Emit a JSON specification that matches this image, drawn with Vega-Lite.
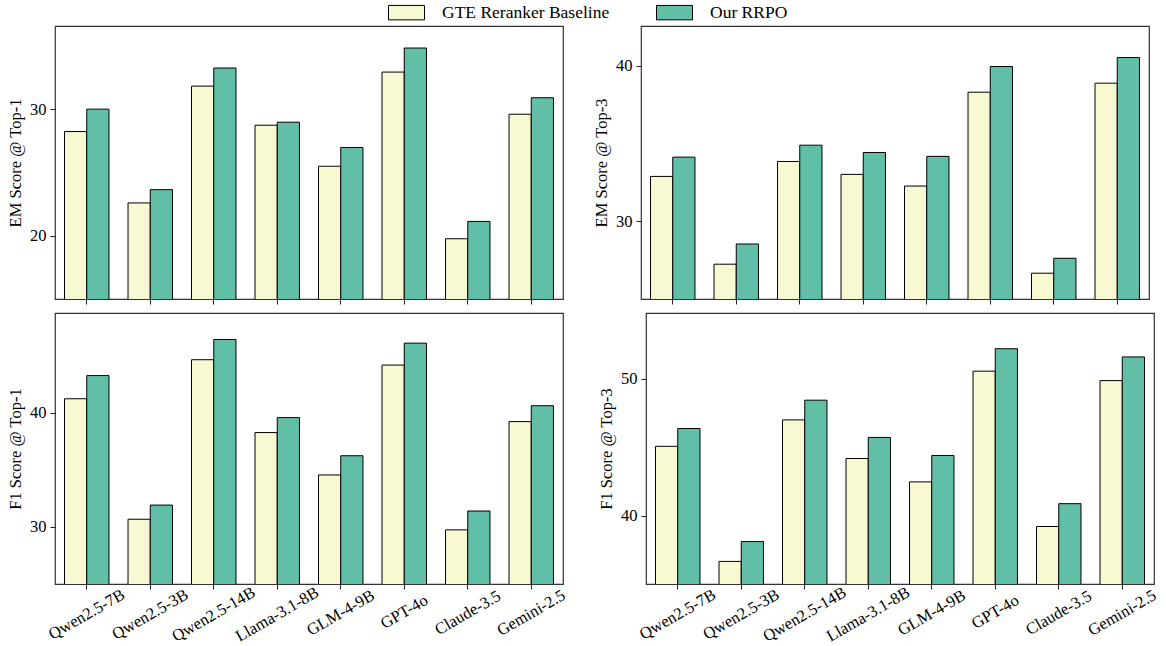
{
  "$schema": "https://vega.github.io/schema/vega-lite/v6.json",
  "padding": {"left": 6, "top": 3, "right": 4, "bottom": 0},
  "background": "white",
  "config": {
    "font": "Liberation Serif",
    "view": {"stroke": "#333333", "strokeWidth": 1.2},
    "axis": {
      "labelFont": "Liberation Serif", "labelFontSize": 16.5, "labelColor": "black",
      "titleFont": "Liberation Serif", "titleFontSize": 16.5, "titleColor": "black", "titleFontWeight": "normal",
      "tickColor": "#222222", "tickSize": 5, "tickWidth": 1, "grid": false,
      "domainColor": "#333333", "domainWidth": 1.2
    },
    "legend": {
      "title": null, "orient": "none", "legendX": 342, "legendY": -23, "direction": "horizontal", "padding": 0,
      "symbolType": "M-2,-0.8H2V0.8H-2Z", "symbolSize": 324, "symbolStrokeColor": "black", "symbolStrokeWidth": 1,
      "labelFont": "Liberation Serif", "labelFontSize": 17.5, "labelColor": "black", "labelOffset": 26,
      "columnPadding": 44, "labelLimit": 400
    }
  },
  "data": {"values": [
    {"metric": "EM1", "model": "Qwen2.5-7B", "method": "GTE Reranker Baseline", "value": 28.23},
    {"metric": "EM1", "model": "Qwen2.5-7B", "method": "Our RRPO", "value": 30.0},
    {"metric": "EM1", "model": "Qwen2.5-3B", "method": "GTE Reranker Baseline", "value": 22.59},
    {"metric": "EM1", "model": "Qwen2.5-3B", "method": "Our RRPO", "value": 23.64},
    {"metric": "EM1", "model": "Qwen2.5-14B", "method": "GTE Reranker Baseline", "value": 31.82},
    {"metric": "EM1", "model": "Qwen2.5-14B", "method": "Our RRPO", "value": 33.25},
    {"metric": "EM1", "model": "Llama-3.1-8B", "method": "GTE Reranker Baseline", "value": 28.73},
    {"metric": "EM1", "model": "Llama-3.1-8B", "method": "Our RRPO", "value": 28.97},
    {"metric": "EM1", "model": "GLM-4-9B", "method": "GTE Reranker Baseline", "value": 25.49},
    {"metric": "EM1", "model": "GLM-4-9B", "method": "Our RRPO", "value": 26.97},
    {"metric": "EM1", "model": "GPT-4o", "method": "GTE Reranker Baseline", "value": 32.93},
    {"metric": "EM1", "model": "GPT-4o", "method": "Our RRPO", "value": 34.83},
    {"metric": "EM1", "model": "Claude-3.5", "method": "GTE Reranker Baseline", "value": 19.76},
    {"metric": "EM1", "model": "Claude-3.5", "method": "Our RRPO", "value": 21.13},
    {"metric": "EM1", "model": "Gemini-2.5", "method": "GTE Reranker Baseline", "value": 29.6},
    {"metric": "EM1", "model": "Gemini-2.5", "method": "Our RRPO", "value": 30.9},

    {"metric": "EM3", "model": "Qwen2.5-7B", "method": "GTE Reranker Baseline", "value": 32.89},
    {"metric": "EM3", "model": "Qwen2.5-7B", "method": "Our RRPO", "value": 34.13},
    {"metric": "EM3", "model": "Qwen2.5-3B", "method": "GTE Reranker Baseline", "value": 27.24},
    {"metric": "EM3", "model": "Qwen2.5-3B", "method": "Our RRPO", "value": 28.54},
    {"metric": "EM3", "model": "Qwen2.5-14B", "method": "GTE Reranker Baseline", "value": 33.85},
    {"metric": "EM3", "model": "Qwen2.5-14B", "method": "Our RRPO", "value": 34.9},
    {"metric": "EM3", "model": "Llama-3.1-8B", "method": "GTE Reranker Baseline", "value": 33.02},
    {"metric": "EM3", "model": "Llama-3.1-8B", "method": "Our RRPO", "value": 34.43},
    {"metric": "EM3", "model": "GLM-4-9B", "method": "GTE Reranker Baseline", "value": 32.27},
    {"metric": "EM3", "model": "GLM-4-9B", "method": "Our RRPO", "value": 34.18},
    {"metric": "EM3", "model": "GPT-4o", "method": "GTE Reranker Baseline", "value": 38.31},
    {"metric": "EM3", "model": "GPT-4o", "method": "Our RRPO", "value": 39.96},
    {"metric": "EM3", "model": "Claude-3.5", "method": "GTE Reranker Baseline", "value": 26.66},
    {"metric": "EM3", "model": "Claude-3.5", "method": "Our RRPO", "value": 27.62},
    {"metric": "EM3", "model": "Gemini-2.5", "method": "GTE Reranker Baseline", "value": 38.89},
    {"metric": "EM3", "model": "Gemini-2.5", "method": "Our RRPO", "value": 40.54},

    {"metric": "F11", "model": "Qwen2.5-7B", "method": "GTE Reranker Baseline", "value": 41.22},
    {"metric": "F11", "model": "Qwen2.5-7B", "method": "Our RRPO", "value": 43.25},
    {"metric": "F11", "model": "Qwen2.5-3B", "method": "GTE Reranker Baseline", "value": 30.67},
    {"metric": "F11", "model": "Qwen2.5-3B", "method": "Our RRPO", "value": 31.91},
    {"metric": "F11", "model": "Qwen2.5-14B", "method": "GTE Reranker Baseline", "value": 44.64},
    {"metric": "F11", "model": "Qwen2.5-14B", "method": "Our RRPO", "value": 46.41},
    {"metric": "F11", "model": "Llama-3.1-8B", "method": "GTE Reranker Baseline", "value": 38.26},
    {"metric": "F11", "model": "Llama-3.1-8B", "method": "Our RRPO", "value": 39.57},
    {"metric": "F11", "model": "GLM-4-9B", "method": "GTE Reranker Baseline", "value": 34.55},
    {"metric": "F11", "model": "GLM-4-9B", "method": "Our RRPO", "value": 36.23},
    {"metric": "F11", "model": "GPT-4o", "method": "GTE Reranker Baseline", "value": 44.17},
    {"metric": "F11", "model": "GPT-4o", "method": "Our RRPO", "value": 46.09},
    {"metric": "F11", "model": "Claude-3.5", "method": "GTE Reranker Baseline", "value": 29.74},
    {"metric": "F11", "model": "Claude-3.5", "method": "Our RRPO", "value": 31.39},
    {"metric": "F11", "model": "Gemini-2.5", "method": "GTE Reranker Baseline", "value": 39.22},
    {"metric": "F11", "model": "Gemini-2.5", "method": "Our RRPO", "value": 40.61},

    {"metric": "F13", "model": "Qwen2.5-7B", "method": "GTE Reranker Baseline", "value": 45.06},
    {"metric": "F13", "model": "Qwen2.5-7B", "method": "Our RRPO", "value": 46.36},
    {"metric": "F13", "model": "Qwen2.5-3B", "method": "GTE Reranker Baseline", "value": 36.65},
    {"metric": "F13", "model": "Qwen2.5-3B", "method": "Our RRPO", "value": 38.1},
    {"metric": "F13", "model": "Qwen2.5-14B", "method": "GTE Reranker Baseline", "value": 46.99},
    {"metric": "F13", "model": "Qwen2.5-14B", "method": "Our RRPO", "value": 48.43},
    {"metric": "F13", "model": "Llama-3.1-8B", "method": "GTE Reranker Baseline", "value": 44.17},
    {"metric": "F13", "model": "Llama-3.1-8B", "method": "Our RRPO", "value": 45.71},
    {"metric": "F13", "model": "GLM-4-9B", "method": "GTE Reranker Baseline", "value": 42.46},
    {"metric": "F13", "model": "GLM-4-9B", "method": "Our RRPO", "value": 44.39},
    {"metric": "F13", "model": "GPT-4o", "method": "GTE Reranker Baseline", "value": 50.55},
    {"metric": "F13", "model": "GPT-4o", "method": "Our RRPO", "value": 52.19},
    {"metric": "F13", "model": "Claude-3.5", "method": "GTE Reranker Baseline", "value": 39.2},
    {"metric": "F13", "model": "Claude-3.5", "method": "Our RRPO", "value": 40.87},
    {"metric": "F13", "model": "Gemini-2.5", "method": "GTE Reranker Baseline", "value": 49.86},
    {"metric": "F13", "model": "Gemini-2.5", "method": "Our RRPO", "value": 51.59}
  ]},
  "resolve": {"scale": {"color": "shared", "y": "independent", "x": "independent"}, "legend": {"color": "shared"}},
  "spacing": 6,
  "vconcat": [
    {
      "spacing": 28,
      "hconcat": [
        {
          "width": 508, "height": 273,
          "transform": [{"filter": "datum.metric == 'EM1'"}],
          "mark": {"type": "bar", "stroke": "black", "strokeWidth": 1, "clip": true},
          "encoding": {
            "x": {"field": "model", "type": "nominal", "sort": null, "scale": {"paddingInner": 0.3, "paddingOuter": 0.15},
                  "axis": {"labels": false, "title": null, "domain": true, "zindex": 1}},
            "xOffset": {"field": "method", "type": "nominal", "sort": null, "scale": {"paddingInner": 0, "paddingOuter": 0}},
            "y": {"field": "value", "type": "quantitative", "scale": {"domain": [15, 36.57], "zero": false, "nice": false},
                  "axis": {"values": [20, 30], "title": "EM Score @ Top-1", "domain": false, "labelPadding": 4, "titlePadding": 6}},
            "color": {"field": "method", "type": "nominal", "sort": null,
                      "scale": {"domain": ["GTE Reranker Baseline", "Our RRPO"], "range": ["#f8f8d3", "#62bfa7"]}}
          }
        },
        {
          "width": 508, "height": 273,
          "transform": [{"filter": "datum.metric == 'EM3'"}],
          "mark": {"type": "bar", "stroke": "black", "strokeWidth": 1, "clip": true},
          "encoding": {
            "x": {"field": "model", "type": "nominal", "sort": null, "scale": {"paddingInner": 0.3, "paddingOuter": 0.15},
                  "axis": {"labels": false, "title": null, "domain": true, "zindex": 1}},
            "xOffset": {"field": "method", "type": "nominal", "sort": null, "scale": {"paddingInner": 0, "paddingOuter": 0}},
            "y": {"field": "value", "type": "quantitative", "scale": {"domain": [25, 42.57], "zero": false, "nice": false},
                  "axis": {"values": [30, 40], "title": "EM Score @ Top-3", "domain": false, "labelPadding": 4, "titlePadding": 6}},
            "color": {"field": "method", "type": "nominal", "sort": null,
                      "scale": {"domain": ["GTE Reranker Baseline", "Our RRPO"], "range": ["#f8f8d3", "#62bfa7"]}}
          }
        }
      ]
    },
    {
      "spacing": 28,
      "hconcat": [
        {
          "width": 508, "height": 271,
          "transform": [{"filter": "datum.metric == 'F11'"}],
          "mark": {"type": "bar", "stroke": "black", "strokeWidth": 1, "clip": true},
          "encoding": {
            "x": {"field": "model", "type": "nominal", "sort": null, "scale": {"paddingInner": 0.3, "paddingOuter": 0.15},
                  "axis": {"title": null, "domain": true, "zindex": 1, "labelAngle": -30, "labelAlign": "center", "labelBaseline": "middle", "labelOverlap": false, "labelBound": false, "labelLimit": 300, "labelFontSize": 16.5,
                           "labelPadding": {"condition": [
                             {"test": "datum.label == 'Qwen2.5-7B' || datum.label == 'Qwen2.5-3B'", "value": 25},
                             {"test": "datum.label == 'Qwen2.5-14B' || datum.label == 'Llama-3.1-8B'", "value": 25},
                             {"test": "datum.label == 'GPT-4o'", "value": 22.5}
                           ], "value": 23.5}}},
            "xOffset": {"field": "method", "type": "nominal", "sort": null, "scale": {"paddingInner": 0, "paddingOuter": 0}},
            "y": {"field": "value", "type": "quantitative", "scale": {"domain": [25, 48.73], "zero": false, "nice": false},
                  "axis": {"values": [30, 40], "title": "F1 Score @ Top-1", "domain": false, "labelPadding": 4, "titlePadding": 6}},
            "color": {"field": "method", "type": "nominal", "sort": null,
                      "scale": {"domain": ["GTE Reranker Baseline", "Our RRPO"], "range": ["#f8f8d3", "#62bfa7"]}}
          }
        },
        {
          "width": 508, "height": 271,
          "transform": [{"filter": "datum.metric == 'F13'"}],
          "mark": {"type": "bar", "stroke": "black", "strokeWidth": 1, "clip": true},
          "encoding": {
            "x": {"field": "model", "type": "nominal", "sort": null, "scale": {"paddingInner": 0.3, "paddingOuter": 0.15},
                  "axis": {"title": null, "domain": true, "zindex": 1, "labelAngle": -30, "labelAlign": "center", "labelBaseline": "middle", "labelOverlap": false, "labelBound": false, "labelLimit": 300, "labelFontSize": 16.5,
                           "labelPadding": {"condition": [
                             {"test": "datum.label == 'Qwen2.5-7B' || datum.label == 'Qwen2.5-3B'", "value": 25},
                             {"test": "datum.label == 'Qwen2.5-14B' || datum.label == 'Llama-3.1-8B'", "value": 25},
                             {"test": "datum.label == 'GPT-4o'", "value": 22.5}
                           ], "value": 23.5}}},
            "xOffset": {"field": "method", "type": "nominal", "sort": null, "scale": {"paddingInner": 0, "paddingOuter": 0}},
            "y": {"field": "value", "type": "quantitative", "scale": {"domain": [35, 54.8], "zero": false, "nice": false},
                  "axis": {"values": [40, 50], "title": "F1 Score @ Top-3", "domain": false, "labelPadding": 4, "titlePadding": 6}},
            "color": {"field": "method", "type": "nominal", "sort": null,
                      "scale": {"domain": ["GTE Reranker Baseline", "Our RRPO"], "range": ["#f8f8d3", "#62bfa7"]}}
          }
        }
      ]
    }
  ]
}
